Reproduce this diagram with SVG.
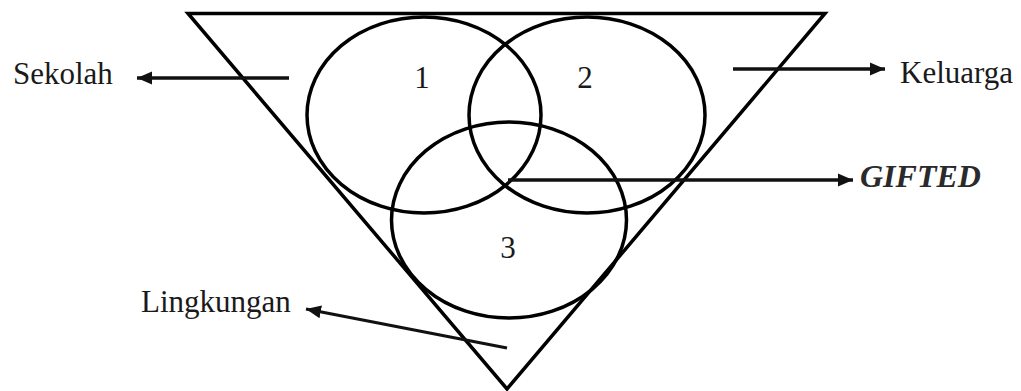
<svg xmlns="http://www.w3.org/2000/svg" width="1021" height="391" viewBox="0 0 1021 391">
  <style>
    .shape { fill: none; stroke: #000; stroke-width: 3.5; }
    .conn { fill: none; stroke: #111; stroke-width: 3.3; }
    .lbl { font-family: "Liberation Serif", "Times New Roman", serif; font-size: 31px; fill: #1a1a1a; }
    .num { font-family: "Liberation Serif", "Times New Roman", serif; font-size: 31px; fill: #1a1a1a; text-anchor: middle; }
    .gifted { font-family: "Liberation Serif", "Times New Roman", serif; font-size: 32px; font-weight: bold; font-style: italic; fill: #2a2a2a; }
  </style>
  <defs>
    <marker id="arrow" markerUnits="userSpaceOnUse" markerWidth="16" markerHeight="14" refX="15" refY="7" orient="auto">
      <path d="M0,0.5 L15,7 L0,13.5 Z" fill="#111"/>
    </marker>
  </defs>
  <rect width="1021" height="391" fill="#fff"/>

  <g id="triangle">
    <path class="shape" d="M188,13.5 L825,13.5 L507,389 Z" stroke-linejoin="miter"/>
  </g>

  <g id="circle1">
    <ellipse class="shape" cx="424" cy="115" rx="117" ry="98"/>
    <text class="num" x="422" y="88">1</text>
  </g>
  <g id="circle2">
    <ellipse class="shape" cx="587" cy="115" rx="118" ry="98"/>
    <text class="num" x="585" y="88">2</text>
  </g>
  <g id="circle3">
    <ellipse class="shape" cx="509" cy="220" rx="117.5" ry="98"/>
    <text class="num" x="508" y="258">3</text>
  </g>

  <g id="connectors">
    <line class="conn" x1="289" y1="78" x2="137" y2="78" marker-end="url(#arrow)"/>
    <line class="conn" x1="733" y1="69" x2="885" y2="69" marker-end="url(#arrow)"/>
    <line class="conn" x1="508" y1="180" x2="853" y2="180" stroke-width="2.8" marker-end="url(#arrow)"/>
    <line class="conn" x1="507" y1="348" x2="306" y2="309" marker-end="url(#arrow)"/>
  </g>

  <g id="label-sekolah">
    <text class="lbl" x="13" y="84">Sekolah</text>
  </g>
  <g id="label-keluarga">
    <text class="lbl" x="900" y="83">Keluarga</text>
  </g>
  <g id="label-gifted">
    <text class="gifted" x="860" y="187">GIFTED</text>
  </g>
  <g id="label-lingkungan">
    <text class="lbl" x="141" y="312">Lingkungan</text>
  </g>
</svg>
